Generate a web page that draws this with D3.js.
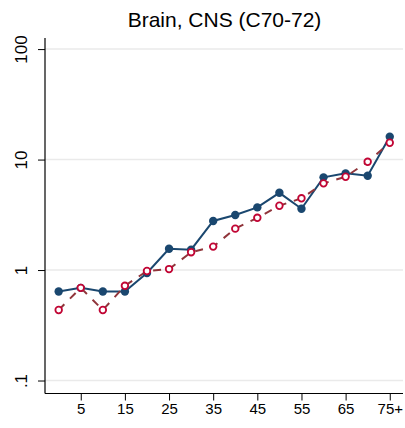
<!DOCTYPE html>
<html><head><meta charset="utf-8">
<script src="https://cdn.jsdelivr.net/npm/d3@7"></script>
<style>body{margin:0;background:#fff}svg{display:block;font-family:"Liberation Sans",Arial,sans-serif}</style>
</head><body>
<script>
const title = "Brain, CNS (C70-72)";
const ages = [0,5,10,15,20,25,30,35,40,45,50,55,60,65,70,75];
const seriesA = [0.64,0.69,0.64,0.64,0.94,1.56,1.53,2.78,3.15,3.69,5.0,3.59,6.9,7.5,7.13,16.1];
const seriesB = [0.435,0.69,0.435,0.72,0.98,1.02,1.45,1.63,2.37,2.97,3.82,4.46,6.09,6.99,9.55,14.2];
const xTickVals = [5,15,25,35,45,55,65,75];
const xTickLabels = ["5","15","25","35","45","55","65","75+"];
const yTickVals = [0.1,1,10,100];
const yTickLabels = [".1","1","10","100"];

(function(){
const W = 405, H = 428;
const svg = d3.select("body").append("svg").attr("width",W).attr("height",H);
const pL = 45, pR = 403, pT = 38, pB = 393.5;
const x = d3.scaleLinear().domain([-3.1,78]).range([pL,pR]);
const y = d3.scaleLog().domain([0.0763,126]).range([pB,pT]);

svg.append("g").selectAll("line").data(yTickVals).join("line")
  .attr("x1",pL).attr("x2",pR).attr("y1",d=>y(d)).attr("y2",d=>y(d))
  .attr("stroke","#eaeaea").attr("stroke-width",1.5);

const yAxis = d3.axisLeft(y).tickValues(yTickVals).tickSize(7).tickFormat((d,i)=>yTickLabels[i]);
const gy = svg.append("g").attr("transform",`translate(${pL},0)`).call(yAxis);
gy.select(".domain").attr("d",`M0,${pT}V${pB}`).attr("stroke","#000").attr("stroke-width",1.2);
gy.selectAll(".tick line").attr("stroke","#000").attr("stroke-width",1);
gy.selectAll(".tick text").attr("font-size",17).attr("fill","#000")
  .attr("transform","rotate(-90)").attr("x",0).attr("y",-18).attr("dy","0")
  .attr("text-anchor","middle");

const xAxis = d3.axisBottom(x).tickValues(xTickVals).tickSize(7).tickFormat((d,i)=>xTickLabels[i]);
const gx = svg.append("g").attr("transform",`translate(0,${pB})`).call(xAxis);
gx.select(".domain").attr("d",`M${pL},0H${pR}`).attr("stroke","#000").attr("stroke-width",1.2);
gx.selectAll(".tick line").attr("stroke","#000").attr("stroke-width",1);
gx.selectAll(".tick text").attr("font-size",15).attr("fill","#000").attr("y",10).attr("dy","0.71em");

const line = d3.line().x((d,i)=>x(ages[i])).y(d=>y(d));
svg.append("path").datum(seriesA).attr("d",line).attr("fill","none")
  .attr("stroke","#1a476f").attr("stroke-width",2);
svg.append("g").selectAll("circle").data(seriesA).join("circle")
  .attr("cx",(d,i)=>x(ages[i])).attr("cy",d=>y(d)).attr("r",4.2).attr("fill","#1a476f");

svg.append("path").datum(seriesB).attr("d",line).attr("fill","none")
  .attr("stroke","#90353b").attr("stroke-width",2).attr("stroke-dasharray","8,8");
svg.append("g").selectAll("circle").data(seriesB).join("circle")
  .attr("cx",(d,i)=>x(ages[i])).attr("cy",d=>y(d)).attr("r",3.3)
  .attr("fill","#fff").attr("stroke","#c10534").attr("stroke-width",1.8);

svg.append("text").attr("x",224.5).attr("y",27).attr("text-anchor","middle")
  .attr("font-size",21).attr("fill","#000").text(title);
})();
</script>
</body></html>
